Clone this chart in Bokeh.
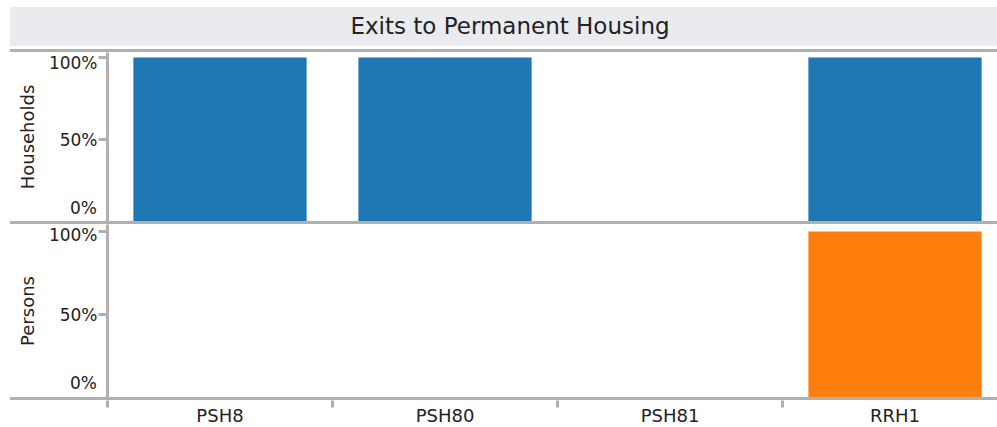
from bokeh.plotting import figure
from bokeh.models import Range1d, FixedTicker, NumeralTickFormatter, Div
from bokeh.layouts import column
from bokeh.embed import file_html
from bokeh.resources import INLINE

# ---- data ----
title = "Exits to Permanent Housing"
categories = ["PSH8", "PSH80", "PSH81", "RRH1"]
households = [1.0, 1.0, 0.0, 1.0]
persons = [0.0, 0.0, 0.0, 1.0]
y_ticks = [0.5, 1.0]
row_labels = ["Households", "Persons"]

# ---- style ----
GRAY = "#B0B0B0"
FONT = "DejaVu Sans"
TXT = "#222222"
BLUE = "#1F77B4"
ORANGE = "#FF7F0E"
W = 987
LEFT = 97

xs = [i + 0.5 for i in range(len(categories))]
x_range = Range1d(0, 890 / 225)
zero_label = f"{0:.0%}"


def panel(values, color, label, h, yend):
    p = figure(width=W, height=h, x_range=x_range, y_range=Range1d(0, yend),
               x_axis_location=None, toolbar_location=None, output_backend="svg",
               min_border_left=LEFT, min_border_right=0, min_border_top=0,
               min_border_bottom=0)
    p.outline_line_color = None
    p.grid.visible = False
    p.background_fill_color = "white"
    p.border_fill_color = "white"
    p.vbar(x=xs, top=values, width=0.77, fill_color=color, line_color=None)
    ax = p.yaxis[0]
    ax.ticker = FixedTicker(ticks=y_ticks, minor_ticks=[])
    ax.formatter = NumeralTickFormatter(format="0%")
    ax.axis_line_color = GRAY
    ax.axis_line_width = 3
    ax.major_tick_out = 9
    ax.major_tick_in = 0
    ax.major_tick_line_color = GRAY
    ax.major_tick_line_width = 3
    ax.minor_tick_line_color = None
    ax.major_label_standoff = 1
    ax.major_label_text_font = FONT
    ax.major_label_text_font_size = "17px"
    ax.major_label_text_color = TXT
    ax.axis_label = label
    ax.axis_label_text_font = FONT
    ax.axis_label_text_font_size = "18px"
    ax.axis_label_text_font_style = "normal"
    ax.axis_label_text_color = TXT
    ax.axis_label_standoff = 8
    return p


def hline(top_margin=0, zero_shift=None):
    # separator line; optionally carries the panel's "0%" tick label,
    # lifted above the line so it sits inside the panel above
    text = ""
    if zero_shift is not None:
        text = (f'<div style="position:relative;top:{zero_shift}px;width:{LEFT - 10}px;'
                f'text-align:right;font-family:\'{FONT}\';font-size:17px;'
                f'line-height:20px;color:{TXT};white-space:nowrap">{zero_label}</div>')
    return Div(text=text, width=W, height=3, margin=(top_margin, 0, 0, 0),
               styles={"background-color": GRAY, "overflow": "visible"})


title_div = Div(text=f'<div style="padding-left:13px">{title}</div>',
                width=W, height=39, margin=0,
                styles={"background-color": "#EAEBEE", "font-family": FONT,
                        "font-size": "23px", "line-height": "39px",
                        "text-align": "center", "color": TXT})

top = panel(households, BLUE, row_labels[0], 169, 169 / 164)
bottom = panel(persons, ORANGE, row_labels[1], 173, 173 / 166)

axf = figure(width=W, height=20, x_range=x_range, y_range=Range1d(0, 1),
             y_axis_location=None, toolbar_location=None, output_backend="svg",
             min_border_left=LEFT, min_border_right=0, min_border_top=0,
             min_border_bottom=0)
axf.outline_line_color = None
axf.grid.visible = False
xa = axf.xaxis[0]
xa.ticker = FixedTicker(ticks=xs, minor_ticks=[float(i) for i in range(len(categories))])
xa.major_label_overrides = {x: c for x, c in zip(xs, categories)}
xa.major_tick_out = 0
xa.major_tick_in = 0
xa.minor_tick_out = 7
xa.minor_tick_in = 0
xa.minor_tick_line_color = GRAY
xa.minor_tick_line_width = 3
xa.axis_line_color = None
xa.major_label_standoff = -3
xa.major_label_text_font = FONT
xa.major_label_text_font_size = "18px"
xa.major_label_text_color = TXT

layout = column(title_div, hline(3), top, hline(zero_shift=-23), bottom,
                hline(zero_shift=-24), axf, spacing=0, margin=(7, 0, 0, 10))

open("out.html", "w").write(file_html(layout, INLINE))
